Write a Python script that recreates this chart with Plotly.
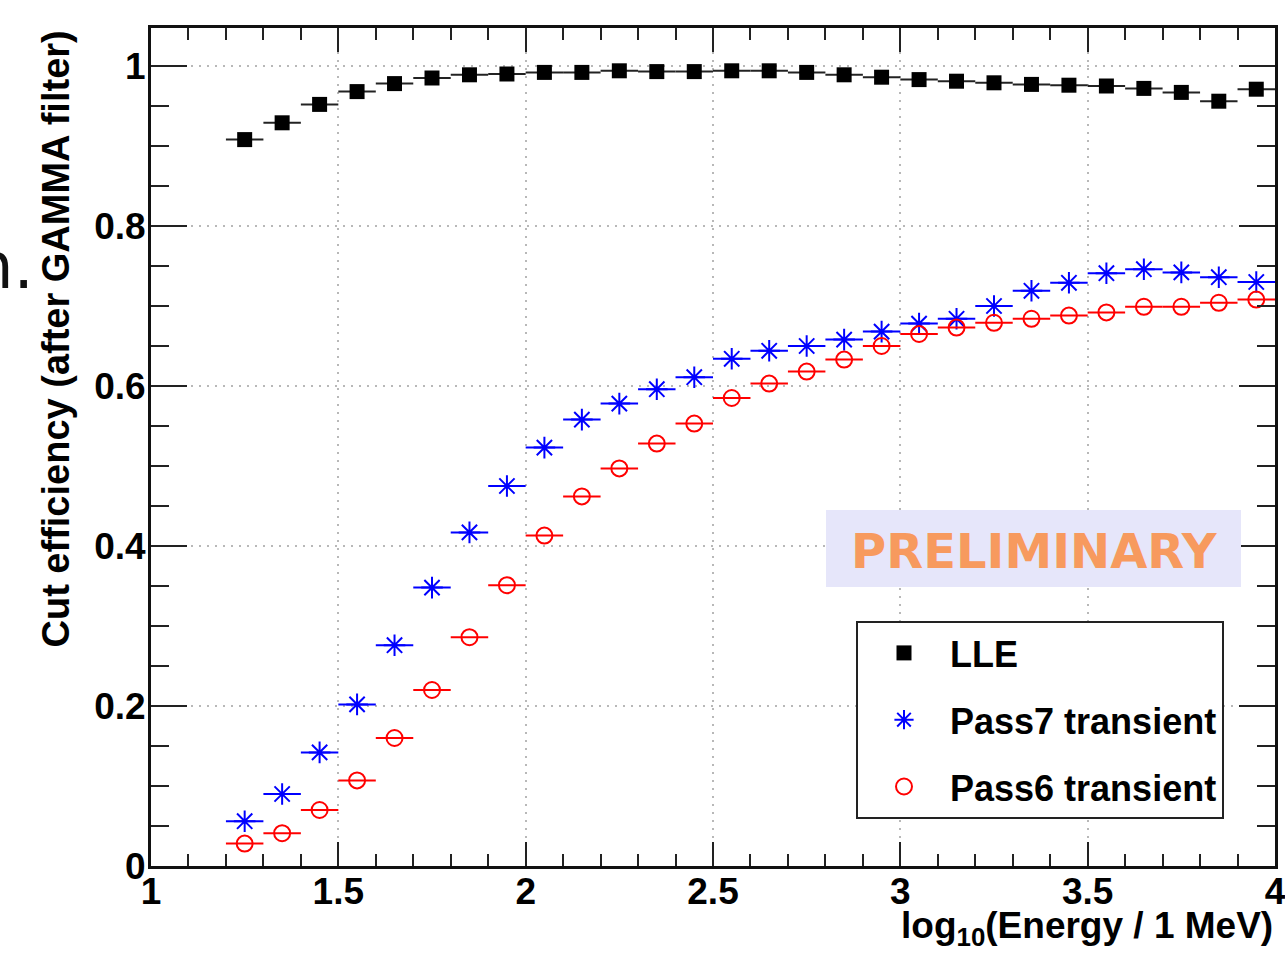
import plotly.graph_objects as go

# ---- data ----
log_energy = [1.25, 1.35, 1.45, 1.55, 1.65, 1.75, 1.85, 1.95, 2.05, 2.15,
              2.25, 2.35, 2.45, 2.55, 2.65, 2.75, 2.85, 2.95, 3.05, 3.15,
              3.25, 3.35, 3.45, 3.55, 3.65, 3.75, 3.85, 3.95]
bin_half_width = 0.05

lle = [0.908, 0.929, 0.952, 0.968, 0.978, 0.985, 0.989, 0.990, 0.992, 0.992,
       0.994, 0.993, 0.993, 0.994, 0.994, 0.992, 0.989, 0.986, 0.983, 0.981,
       0.979, 0.977, 0.976, 0.975, 0.972, 0.967, 0.956, 0.971]

pass7 = [0.056, 0.090, 0.142, 0.202, 0.276, 0.348, 0.417, 0.475, 0.523, 0.558,
         0.578, 0.596, 0.611, 0.634, 0.644, 0.650, 0.658, 0.668, 0.678, 0.684,
         0.700, 0.719, 0.729, 0.741, 0.746, 0.742, 0.736, 0.730]

pass6 = [0.028, 0.041, 0.070, 0.107, 0.160, 0.220, 0.286, 0.351, 0.413, 0.462,
         0.497, 0.528, 0.553, 0.585, 0.603, 0.618, 0.633, 0.650, 0.665, 0.673,
         0.679, 0.684, 0.688, 0.692, 0.699, 0.699, 0.704, 0.708]

series_names = ["LLE", "Pass7 transient", "Pass6 transient"]

x_title = "log<sub>10</sub>(Energy / 1 MeV)"
y_title = "Cut efficiency (after GAMMA filter)"
stamp_text = "PRELIMINARY"
slide_fragment = "n."

# ---- figure ----
W, H = 1285, 964
ML, MR, MT, MB = 151, 10, 28, 98
PW, PH = W - ML - MR, H - MT - MB


def px_x(p):
    return (p - ML) / PW


def px_y(p):
    return (H - MB - p) / PH


bold = dict(family="Liberation Sans, Arial, sans-serif", color="black", weight="bold")

fig = go.Figure()

fig.add_trace(go.Scatter(
    x=log_energy, y=lle, name=series_names[0], mode="markers", legendgroup="a",
    marker=dict(symbol="square", size=15, color="black"),
    error_x=dict(type="constant", value=bin_half_width, width=0, thickness=2, color="#222"),
))
fig.add_trace(go.Scatter(
    x=log_energy, y=pass7, name=series_names[1], mode="markers", legendgroup="b",
    marker=dict(symbol="asterisk-open", size=18, color="blue", line=dict(color="blue", width=2)),
    error_x=dict(type="constant", value=bin_half_width, width=0, thickness=2, color="blue"),
))
fig.add_trace(go.Scatter(
    x=log_energy, y=pass6, name=series_names[2], mode="markers", legendgroup="c",
    marker=dict(symbol="circle-open", size=16, color="red", line=dict(color="red", width=2)),
    error_x=dict(type="constant", value=bin_half_width, width=0, thickness=2, color="red"),
))

axis_common = dict(
    showline=True, linewidth=3, linecolor="#111", mirror="ticks",
    ticks="inside", tickwidth=2, tickcolor="#222",
    showgrid=True, gridcolor="#b8b8b8", gridwidth=2, griddash="2px,6px",
    zeroline=False, tickfont=dict(size=37, **bold), automargin=False,
    ticklabeloverflow="allow",
)

fig.update_xaxes(
    range=[1, 4], tick0=1, dtick=0.5, ticklen=24, ticklabelstandoff=-9,
    minor=dict(dtick=0.1, ticklen=12, tickwidth=2, tickcolor="#222", ticks="inside", showgrid=False),
    **axis_common,
)
fig.update_yaxes(
    range=[0, 1.0475], tick0=0, dtick=0.2, ticklen=36, ticklabelstandoff=-5,
    minor=dict(dtick=0.05, ticklen=18, tickwidth=2, tickcolor="#222", ticks="inside", showgrid=False),
    **axis_common,
)

fig.add_shape(
    type="rect", xref="paper", yref="paper",
    x0=px_x(826), x1=px_x(1241), y0=px_y(587), y1=px_y(510),
    fillcolor="#e6e6fa", line=dict(width=0), layer="above",
)

fig.add_annotation(
    text=stamp_text, xref="paper", yref="paper", x=px_x(1034), y=px_y(551),
    xanchor="center", yanchor="middle", showarrow=False,
    font=dict(family="DejaVu Sans, Verdana, sans-serif", size=48, color="#f79a5e", weight="bold"),
)

fig.add_annotation(
    text=x_title, xref="paper", yref="paper", x=1.0, y=px_y(928),
    xanchor="right", yanchor="middle", showarrow=False,
    font=dict(size=37, **bold),
)

fig.add_annotation(
    text=y_title, xref="paper", yref="paper", x=px_x(55), y=px_y(29),
    xanchor="center", yanchor="top", textangle=-90, showarrow=False,
    font=dict(size=38, **bold),
)

fig.add_annotation(
    text=slide_fragment, xref="paper", yref="paper", x=px_x(36), y=px_y(266),
    xanchor="right", yanchor="middle", showarrow=False,
    font=dict(family="DejaVu Sans, sans-serif", size=64, color="#111"),
)

fig.update_layout(
    width=W, height=H, autosize=False,
    margin=dict(l=ML, r=MR, t=MT, b=MB),
    paper_bgcolor="white", plot_bgcolor="white",
    showlegend=True,
    legend=dict(
        x=px_x(856), y=px_y(621), xanchor="left", yanchor="top",
        xref="paper", yref="paper",
        bgcolor="white", bordercolor="#222", borderwidth=2,
        font=dict(size=36, **bold),
        itemwidth=82, tracegroupgap=17, traceorder="grouped",
    ),
)

fig.write_html("out.html")
